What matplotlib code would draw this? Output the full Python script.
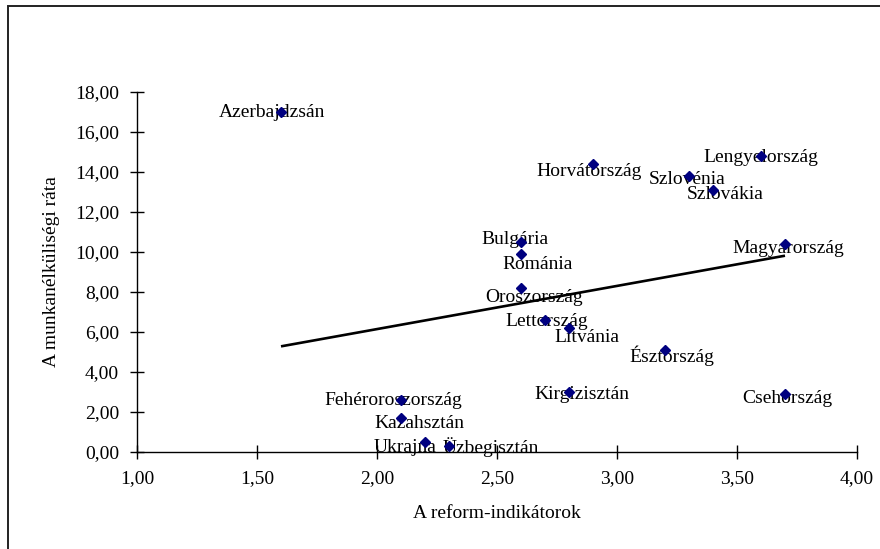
import numpy as np
import matplotlib
matplotlib.use("Agg")
import matplotlib.pyplot as plt
from matplotlib.patches import Rectangle
from matplotlib.ticker import FixedLocator, FuncFormatter

# Reform indicator vs. unemployment rate by country
countries = [
    "Azerbajdzsán", "Horvátország", "Szlovénia", "Szlovákia", "Lengyelország",
    "Magyarország", "Bulgária", "Románia", "Oroszország", "Lettország",
    "Litvánia", "Észtország", "Kirgizisztán", "Csehország",
    "Fehéroroszország", "Kazahsztán", "Ukrajna", "Üzbegisztán",
]
reform = [1.6, 2.9, 3.3, 3.4, 3.6, 3.7, 2.6, 2.6, 2.6, 2.7,
          2.8, 3.2, 2.8, 3.7, 2.1, 2.1, 2.2, 2.3]
unemployment = [17.0, 14.4, 13.8, 13.1, 14.8, 10.4, 10.5, 9.9, 8.2, 6.6,
                6.2, 5.1, 3.0, 2.9, 2.6, 1.7, 0.5, 0.3]

x_ticks = [1.0, 1.5, 2.0, 2.5, 3.0, 3.5, 4.0]
y_ticks = [0, 2, 4, 6, 8, 10, 12, 14, 16, 18]
x_title = "A reform-indikátorok"
y_title = "A munkanélküliségi ráta"

# label placement relative to each marker (pixels)
label_offsets = [
    (-9, -1), (-4, -8), (-2, -4), (12, -5), (0, -2),
    (3, -5), (-6, 2), (17, -11), (13, -10), (2, -2),
    (18, -10), (7, -6), (13, -3), (2, -5),
    (-8, -1), (18, -6), (-20, -6), (42, -1),
]

plt.rcParams["font.family"] = ["Liberation Serif", "DejaVu Serif"]
FS = 14

fig = plt.figure(figsize=(8.8, 5.49), dpi=100)
fig.patch.set_facecolor("white")

# outer chart frame (top and left edges visible)
fig.patches.append(Rectangle((7.5 / 880, -0.1), 1.2, 1 - 6 / 549 + 0.1,
                             transform=fig.transFigure, fill=False,
                             edgecolor="#222222", linewidth=1.4, zorder=0))

ax = fig.add_axes([137 / 880, 1 - 451.7 / 549, 720 / 880, 360 / 549])
ax.set_xlim(1, 4)
ax.set_ylim(0, 18)

x = np.array(reform)
y = np.array(unemployment)

for name, xi, yi, (dx, dy) in zip(countries, reform, unemployment, label_offsets):
    ax.annotate(name, (xi, yi), xytext=(dx, dy), textcoords="offset pixels",
                ha="center", va="center", fontsize=FS, color="black",
                zorder=1, clip_on=False)

# linear trend line over the observed range
slope, intercept = np.polyfit(x, y, 1)
xs = np.array([x.min(), x.max()])
ax.plot(xs, slope * xs + intercept, color="black", linewidth=1.9, zorder=3,
        solid_capstyle="butt")

ax.plot(x, y, linestyle="none", marker="D", markersize=5.4,
        markerfacecolor="#000080", markeredgecolor="#000080", zorder=4)

for side in ("top", "right"):
    ax.spines[side].set_visible(False)
for side in ("left", "bottom"):
    ax.spines[side].set_linewidth(1.0)
    ax.spines[side].set_color("black")
    ax.spines[side].set_zorder(2)

ax.xaxis.set_major_locator(FixedLocator(x_ticks))
ax.yaxis.set_major_locator(FixedLocator(y_ticks))
comma = FuncFormatter(lambda v, p: f"{v:.2f}".replace(".", ","))
ax.xaxis.set_major_formatter(comma)
ax.yaxis.set_major_formatter(comma)
ax.tick_params(direction="inout", length=10, width=1.0, labelsize=FS,
               colors="black")
ax.tick_params(axis="y", pad=8)
ax.tick_params(axis="x", pad=8)

ax.set_xlabel(x_title, fontsize=FS, labelpad=13)
ax.set_ylabel(y_title, fontsize=FS, labelpad=11)

fig.savefig("out.png", dpi=100, facecolor="white")
